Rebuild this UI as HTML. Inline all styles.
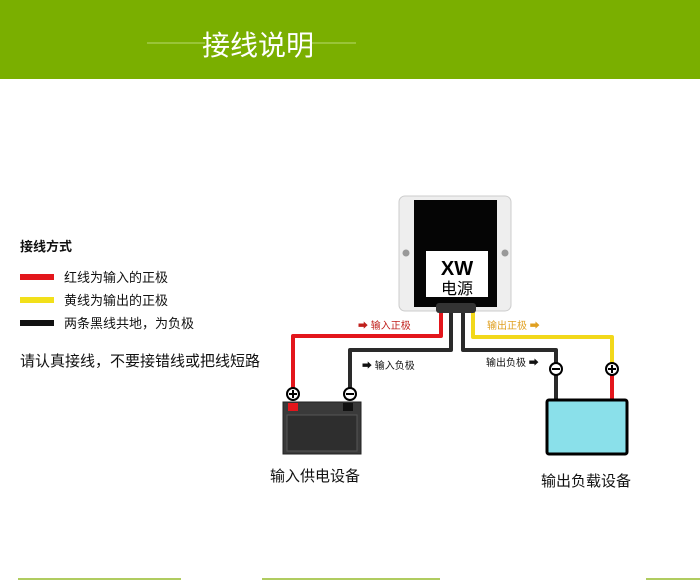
<!DOCTYPE html>
<html><head><meta charset="utf-8"><style>
body{margin:0;width:700px;height:580px;overflow:hidden;background:#fff;font-family:"Liberation Sans","Noto Sans CJK SC",sans-serif;}
</style></head><body>
<svg width="700" height="580" xmlns="http://www.w3.org/2000/svg" style="position:absolute;left:0;top:0" font-family="Liberation Sans, Noto Sans CJK SC, sans-serif">
<rect x="0" y="0" width="700" height="79" fill="#7aaf00"/>
<line x1="147" y1="43" x2="205" y2="43" stroke="#b8d870" stroke-width="1"/>
<line x1="311" y1="43" x2="356" y2="43" stroke="#b8d870" stroke-width="1"/>
<text x="258" y="55" font-size="28" fill="#fff" text-anchor="middle">接线说明</text>

<text x="20" y="251" font-size="13" fill="#111" font-weight="bold">接线方式</text>
<rect x="20" y="274" width="34" height="6" fill="#e3161c"/>
<rect x="20" y="297" width="34" height="6" fill="#f2e01a"/>
<rect x="20" y="320" width="34" height="6" fill="#111"/>
<text x="64" y="282" font-size="13" fill="#111">红线为输入的正极</text>
<text x="64" y="305" font-size="13" fill="#111">黄线为输出的正极</text>
<text x="64" y="328" font-size="13" fill="#111">两条黑线共地，为负极</text>
<text x="20" y="366" font-size="15" fill="#111">请认真接线，不要接错线或把线短路</text>

<g fill="none" stroke-width="4" stroke-linejoin="round">
<path d="M441 305 V336 H293 V393" stroke="#e3161c"/>
<path d="M451 305 V350 H350 V393" stroke="#2a2a2a"/>
<path d="M463 305 V350 H556 V400" stroke="#2a2a2a"/>
<path d="M473 305 V337 H612 V400" stroke="#f2d81a"/>
<path d="M612 372 V400" stroke="#e3161c"/>
</g>
<text x="358" y="329" font-size="10" fill="#c0201c">➡ 输入正极</text>
<text x="362" y="369" font-size="10" fill="#111">➡ 输入负极</text>
<text x="487" y="329" font-size="10" fill="#e0a020">输出正极 ➡</text>
<text x="486" y="366" font-size="10" fill="#111">输出负极 ➡</text>

<rect x="399" y="196" width="112" height="115" rx="6" fill="#eee" stroke="#ccc"/>
<rect x="414" y="200" width="83" height="107" fill="#050505"/>
<rect x="426" y="251" width="62" height="46" fill="#fff"/>
<text x="457" y="275" font-size="20" font-weight="bold" text-anchor="middle" fill="#000">XW</text>
<text x="457" y="294" font-size="16" text-anchor="middle" fill="#000">电源</text>
<circle cx="406" cy="253" r="3.5" fill="#999"/>
<circle cx="505" cy="253" r="3.5" fill="#999"/>
<rect x="436" y="303" width="40" height="10" rx="3" fill="#333"/>

<g stroke="#000" stroke-width="2">
<circle cx="293" cy="394" r="6" fill="#fff"/><circle cx="350" cy="394" r="6" fill="#fff"/>
<circle cx="556" cy="369" r="6" fill="#fff"/><circle cx="612" cy="369" r="6" fill="#fff"/>
</g>
<g stroke="#000" stroke-width="2">
<path d="M289 394h8M293 390v8M346 394h8M552 369h8M608 369h8M612 365v8"/>
</g>

<rect x="283" y="402" width="78" height="52" fill="#3a3a3a" stroke="#222"/>
<rect x="287" y="415" width="70" height="36" fill="#2e2e2e" stroke="#555"/>
<rect x="288" y="403" width="10" height="8" fill="#e3161c"/>
<rect x="343" y="403" width="10" height="8" fill="#111"/>
<text x="270" y="481" font-size="15" fill="#111">输入供电设备</text>

<rect x="547" y="400" width="80" height="54" rx="2" fill="#8ae0ea" stroke="#000" stroke-width="3"/>
<text x="541" y="486" font-size="15" fill="#111">输出负载设备</text>

<g stroke="#b0cc60" stroke-width="2">
<line x1="18" y1="579" x2="181" y2="579"/><line x1="262" y1="579" x2="440" y2="579"/><line x1="646" y1="579" x2="700" y2="579"/>
</g>
</svg>
</body></html>
